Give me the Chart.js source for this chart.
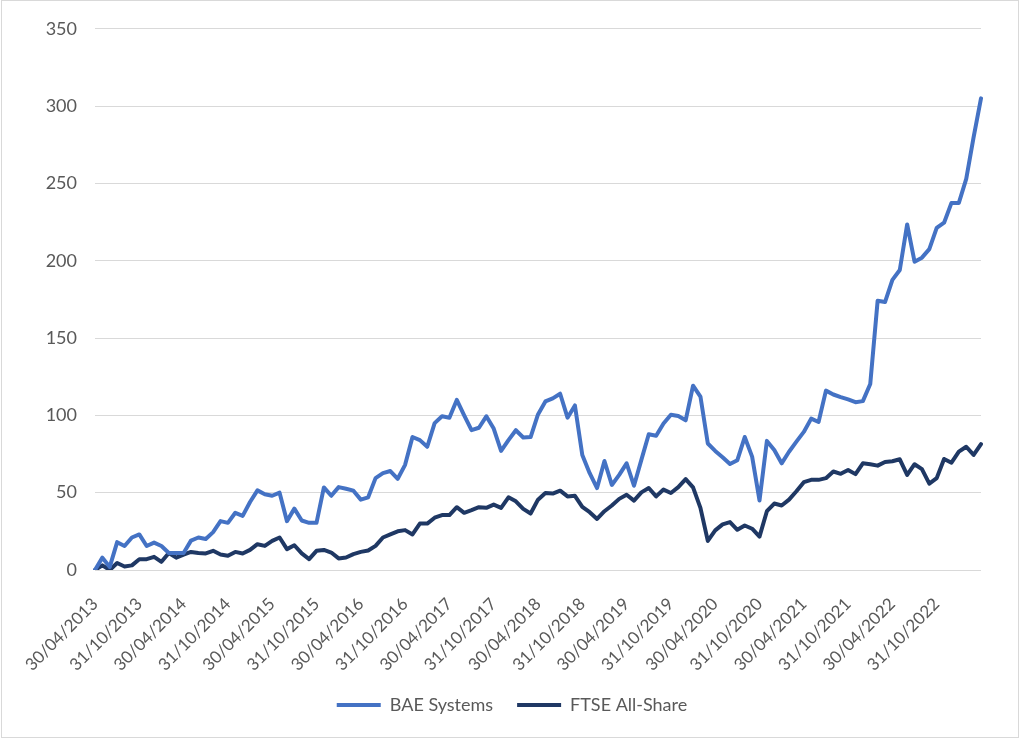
<!DOCTYPE html>
<html>
<head>
<meta charset="utf-8">
<title>BAE Systems vs FTSE All-Share</title>
<script src="https://cdn.jsdelivr.net/npm/chart.js@4.4.1/dist/chart.umd.min.js"></script>
<style>
  html, body { margin: 0; padding: 0; background: #fff; }
  #frame {
    position: absolute; left: 1px; top: 0; width: 1016px; height: 736px;
    border: 1px solid #d9d9d9;
  }
  #wrap { position: absolute; left: 0; top: 0; width: 1024px; height: 739px; }
</style>
</head>
<body>
<div id="frame"></div>
<div id="wrap"><canvas id="chart" width="1024" height="739"></canvas></div>
<script>
// Cumulative % change, monthly, 30/04/2013 onwards
const bae = [
  0, 8, 2, 18, 15.5, 21, 23, 15.5, 17.7, 15.5,
  11, 11, 11, 19, 21, 20, 24.5, 31.6, 30.5, 37,
  35, 44, 51.5, 49, 48, 50, 31.6, 39.7, 32, 30.5,
  30.5, 53.4, 48, 53.6, 52.5, 51.3, 45.5, 47, 59.4, 62.6,
  64, 59, 68, 86, 84, 79.7, 95, 99.4, 98.5, 110,
  100, 90.4, 92, 99.4, 91.5, 77, 84, 90.4, 85.7, 86,
  100.6, 109, 111, 114, 98.5, 106.4, 74.4, 62.6, 53, 70.5,
  55, 61.5, 69, 54.5, 71.2, 87.8, 86.8, 94.7, 100.4, 99.6,
  96.8, 119.2, 112.2, 81.8, 77, 72.9, 68.5, 71, 86, 73.3,
  45, 83.5, 77.6, 69, 76.5, 83, 89.3, 97.9, 95.7, 116,
  113.5, 111.8, 110.3, 108.5, 109.2, 120.3, 174.1, 173.3, 187.6, 194,
  223.5, 199.4, 202, 207.5, 221.2, 224.6, 237.4, 237.4, 253, 280,
  305
];
const ftse = [
  0, 3, 0, 4.5, 2.3, 3, 7, 7, 8.5, 5.3,
  11, 8, 10, 11.7, 11, 10.7, 12.4, 10, 9.2, 11.7,
  10.7, 13, 16.7, 15.6, 18.8, 21, 13.5, 16, 10.7, 7,
  12.4, 13, 11.3, 7.5, 8.1, 10.3, 11.7, 12.6, 15.6, 21,
  23, 25, 25.8, 23, 30, 30, 33.8, 35.5, 35.5, 40.6,
  37, 38.7, 40.6, 40.2, 42.3, 40.2, 47, 44.4, 39.5, 36.5,
  45.5, 49.8, 49.4, 51.3, 47.6, 48, 40.8, 37.4, 33, 38,
  41.7, 46, 48.7, 44.9, 50.2, 53, 47.6, 52, 49.8, 53.6,
  58.8, 53.4, 40.2, 18.8, 25.6, 29.5, 31, 26, 28.8, 26.7,
  21.6, 38, 43, 41.7, 45.5, 50.9, 56.8, 58.3, 58.3, 59.4,
  63.7, 62.2, 64.7, 62, 69, 68.4, 67.5, 69.9, 70.3, 71.6,
  61.5, 68.4, 65.2, 55.8, 59.4, 71.8, 69.4, 76.5, 79.7, 74.4,
  81.4
];
const seriesNames = ['BAE Systems', 'FTSE All-Share'];
const seriesColors = ['#4472C4', '#1F3864'];
const yTicks = [0, 50, 100, 150, 200, 250, 300, 350];

// month-end dates, dd/mm/yyyy
const months = [];
for (let i = 0; i < bae.length; i++) {
  const y = 2013 + Math.floor((3 + i) / 12);
  const m = (3 + i) % 12;
  const d = new Date(y, m + 1, 0).getDate();
  months.push(String(d).padStart(2, '0') + '/' + String(m + 1).padStart(2, '0') + '/' + y);
}

const FAMILY = 'Lato, "Open Sans", sans-serif';
const GREY = '#595959';

new Chart(document.getElementById('chart'), {
  type: 'line',
  data: {
    labels: months,
    datasets: [bae, ftse].map((d, i) => ({
      label: seriesNames[i],
      data: d,
      borderColor: seriesColors[i],
      backgroundColor: seriesColors[i],
      borderWidth: 4,
      pointRadius: 0,
      tension: 0,
      borderJoinStyle: 'round',
      borderCapStyle: 'round',
    })),
  },
  options: {
    responsive: false,
    animation: false,
    layout: { padding: { left: 0, right: 0, top: 25, bottom: 15 } },
    scales: {
      x: {
        grid: { display: false, drawTicks: false },
        border: { display: false },
        ticks: {
          autoSkip: false,
          minRotation: 45,
          maxRotation: 45,
          padding: 24,
          color: GREY,
          font: { family: FAMILY, size: 17 },
          callback: (v, i) => (i % 6 === 0 && i < 120) ? months[i] : '',
        },
        afterFit: s => { s.height = 102; },
      },
      y: {
        min: yTicks[0],
        max: yTicks[yTicks.length - 1],
        grid: { color: '#d9d9d9', lineWidth: 1, drawTicks: false },
        border: { display: false },
        ticks: { stepSize: 50, padding: 18, color: GREY, font: { family: FAMILY, size: 18 } },
        afterFit: s => { s.width = 95; },
      },
      // empty right-hand margin so the legend stays centred on the page
      yRight: {
        position: 'right',
        grid: { display: false, drawTicks: false },
        border: { display: false },
        ticks: { display: false },
        afterFit: s => { s.width = 43; },
      },
    },
    plugins: {
      legend: {
        position: 'bottom',
        labels: {
          usePointStyle: true,
          pointStyle: 'line',
          pointStyleWidth: 44,
          padding: 24,
          color: GREY,
          font: { family: FAMILY, size: 18 },
        },
      },
      tooltip: { enabled: false },
    },
  },
});
</script>
</body>
</html>
